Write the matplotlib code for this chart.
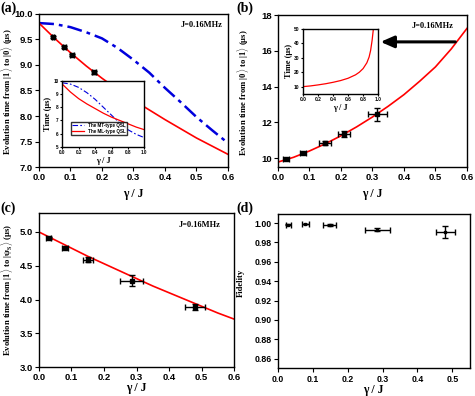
import matplotlib
matplotlib.use('Agg')
import matplotlib.pyplot as plt
import numpy as np

# ---- data ----
gamma = [0.0, 0.05, 0.1, 0.15, 0.2, 0.25, 0.3, 0.35, 0.4, 0.45, 0.5, 0.55, 0.6]

# (a) |1> -> |0>
a_mt = [9.82, 9.80, 9.74, 9.64, 9.52, 9.33, 9.10, 8.85, 8.55, 8.27, 7.98, 7.72, 7.47]
a_ml = [9.82, 9.52, 9.24, 8.98, 8.74, 8.52, 8.31, 8.12, 7.93, 7.75, 7.57, 7.41, 7.25]
a_px = [0.045, 0.08, 0.105, 0.175, 0.29]
a_py = [9.55, 9.36, 9.20, 8.86, 8.35]
a_xerr = [0.004, 0.005, 0.005, 0.006, 0.01]
a_yerr = [0.02, 0.02, 0.02, 0.03, 0.05]

# (a) inset
ins_g = [0.0, 0.1, 0.2, 0.3, 0.4, 0.5, 0.6, 0.7, 0.8, 0.9, 1.0]
ins_mt = [9.85, 9.75, 9.5, 9.1, 8.6, 8.0, 7.4, 6.8, 6.3, 5.95, 5.7]
ins_ml = [9.75, 9.15, 8.65, 8.25, 7.9, 7.55, 7.25, 7.0, 6.75, 6.5, 6.3]

# (b) |0> -> |1>
b_fit = [9.78, 10.05, 10.4, 10.8, 11.25, 11.75, 12.3, 12.9, 13.55, 14.3, 15.1, 16.1, 17.25]
b_px = [0.025, 0.08, 0.15, 0.21, 0.315]
b_py = [9.95, 10.3, 10.85, 11.35, 12.45]
b_xerr = [0.01, 0.01, 0.02, 0.02, 0.03]
b_yerr = [0.05, 0.06, 0.1, 0.15, 0.35]

# (b) inset
binset_g = [0.0, 0.1, 0.2, 0.3, 0.4, 0.5, 0.6, 0.7, 0.75, 0.8, 0.85, 0.88, 0.9, 0.92, 0.935]
binset_t = [10.0, 10.5, 11.2, 12.0, 13.0, 14.2, 15.8, 18.2, 20.0, 22.5, 26.5, 30.5, 35.0, 42.0, 49.0]

# (c) |1> -> |psi_s>
c_fit = [5.0, 4.88, 4.76, 4.64, 4.53, 4.42, 4.31, 4.2, 4.1, 4.0, 3.9, 3.8, 3.71]
c_px = [0.03, 0.08, 0.15, 0.285, 0.48]
c_py = [4.91, 4.77, 4.59, 4.28, 3.89]
c_xerr = [0.008, 0.01, 0.015, 0.035, 0.03]
c_yerr = [0.01, 0.01, 0.04, 0.08, 0.05]

# (d) fidelity
d_px = [0.03, 0.078, 0.148, 0.285, 0.48]
d_py = [0.998, 0.999, 0.998, 0.993, 0.991]
d_xerr = [0.008, 0.01, 0.018, 0.035, 0.028]
d_yerr = [0.0005, 0.0005, 0.0008, 0.0015, 0.006]

SERIF = 'Liberation Serif'
SANS = 'Liberation Sans'
RED = '#ff0000'
BLUE = '#0000dd'

plt.rcParams['font.family'] = SANS
plt.rcParams['font.weight'] = 'bold'
plt.rcParams['mathtext.fontset'] = 'custom'
plt.rcParams['mathtext.rm'] = 'Liberation Serif:bold'
plt.rcParams['mathtext.it'] = 'Liberation Serif:bold'
plt.rcParams['mathtext.default'] = 'rm'
plt.rcParams['axes.linewidth'] = 1.0


def style(ax, fs=6.8, length=3, pad=1.5):
    ax.tick_params(direction='out', length=length, width=0.8, top=False, right=False,
                   pad=pad, labelsize=fs)
    for lab in ax.get_xticklabels() + ax.get_yticklabels():
        lab.set_fontweight('heavy')


def errpts(ax, x, y, xe, ye, ms=3.5):
    ax.errorbar(x, y, xerr=xe, yerr=ye, fmt='s', color='k', ms=ms, elinewidth=1.0,
                capsize=2, capthick=1.0, zorder=4)


fig = plt.figure(figsize=(4.75, 3.96), dpi=100)

xlab = dict(fontsize=8.5, fontweight='bold', family=SERIF)
ylab = dict(fontsize=6.2, fontweight='bold', family=SERIF)

# ---------- (a) ----------
ax = fig.add_axes([0.082, 0.578, 0.398, 0.387])
ax.plot(gamma, a_mt, color=BLUE, lw=1.8, ls=(0, (6, 2, 1.5, 2)))
ax.plot(gamma, a_ml, color=RED, lw=1.2)
errpts(ax, a_px, a_py, a_xerr, a_yerr)
ax.set_xlim(0, 0.6)
ax.set_ylim(7.0, 10.0)
ax.set_xticks([0.0, 0.1, 0.2, 0.3, 0.4, 0.5, 0.6])
ax.set_yticks([7.0, 7.5, 8.0, 8.5, 9.0, 9.5, 10.0])
ax.set_xlabel('γ / J', labelpad=4, **xlab)
ax.set_ylabel('Evolution time from $|1\\rangle$ to $|0\\rangle$ (μs)', **ylab)
ax.yaxis.set_label_coords(-0.128, 0.49)
ax.text(0.97, 0.93, 'J=0.16MHz', transform=ax.transAxes, ha='right', va='center',
        fontsize=6, fontweight='bold', family=SERIF)
style(ax)

ai = fig.add_axes([0.131, 0.629, 0.173, 0.167])
ai.plot(ins_g, ins_mt, color=BLUE, lw=0.8, ls=(0, (5, 2, 1.5, 2)), label='The MT-type QSL')
ai.plot(ins_g, ins_ml, color=RED, lw=0.9, label='The ML-type QSL')
ai.set_xlim(0, 1.0)
ai.set_ylim(5, 10)
ai.set_xticks([0.0, 0.2, 0.4, 0.6, 0.8, 1.0])
ai.set_yticks([5, 6, 7, 8, 9, 10])
ai.set_xlabel('γ / J', fontsize=6, fontweight='bold', family=SERIF, labelpad=1)
ai.set_ylabel('Time (μs)', fontsize=6, fontweight='bold', family=SERIF, labelpad=1)
ai.legend(loc='lower left', fontsize=3.3, frameon=True, fancybox=False, edgecolor='k',
          handlelength=2.5, borderpad=0.3, labelspacing=0.2, bbox_to_anchor=(0.08, 0.14))
style(ai, fs=3.3, length=1.5, pad=1)

# ---------- (b) ----------
bx = fig.add_axes([0.585, 0.578, 0.398, 0.384])
bx.plot(gamma, b_fit, color=RED, lw=1.2)
errpts(bx, b_px, b_py, b_xerr, b_yerr)
bx.set_xlim(0, 0.6)
bx.set_ylim(9.5, 18)
bx.set_xticks([0.0, 0.1, 0.2, 0.3, 0.4, 0.5, 0.6])
bx.set_yticks([10, 12, 14, 16, 18])
bx.set_xlabel('γ / J', labelpad=4, **xlab)
bx.set_ylabel('Evolution time from $|0\\rangle$ to $|1\\rangle$ (μs)', **ylab)
bx.yaxis.set_label_coords(-0.14, 0.49)
bx.text(0.93, 0.93, 'J=0.16MHz', transform=bx.transAxes, ha='right', va='center',
        fontsize=6, fontweight='bold', family=SERIF)
bx.annotate('', xy=(0.317, 16.5), xytext=(0.572, 16.5),
            arrowprops=dict(arrowstyle='-|>,head_length=0.8,head_width=0.35', color='k', lw=2.2))
style(bx)

bi = fig.add_axes([0.638, 0.763, 0.158, 0.164])
bi.plot(binset_g, binset_t, color=RED, lw=0.9)
bi.set_xlim(0, 1.0)
bi.set_ylim(5, 50)
bi.set_xticks([0.0, 0.2, 0.4, 0.6, 0.8, 1.0])
bi.set_yticks([10, 20, 30, 40, 50])
bi.set_xlabel('γ / J', fontsize=6, fontweight='bold', family=SERIF, labelpad=1)
bi.set_ylabel('Time (μs)', fontsize=6, fontweight='bold', family=SERIF, labelpad=1)
style(bi, fs=3.5, length=1.5, pad=1)

# ---------- (c) ----------
cx = fig.add_axes([0.082, 0.073, 0.411, 0.389])
cx.plot(gamma, c_fit, color=RED, lw=1.2)
errpts(cx, c_px, c_py, c_xerr, c_yerr)
cx.set_xlim(0, 0.6)
cx.set_ylim(3.0, 5.28)
cx.set_xticks([0.0, 0.1, 0.2, 0.3, 0.4, 0.5, 0.6])
cx.set_yticks([3.0, 3.5, 4.0, 4.5, 5.0])
cx.set_xlabel('γ / J', labelpad=0, **xlab)
cx.set_ylabel('Evolution time from $|1\\rangle$ to $|\\psi_S\\rangle$ (μs)', **ylab)
cx.yaxis.set_label_coords(-0.124, 0.5)
cx.text(0.93, 0.92, 'J=0.16MHz', transform=cx.transAxes, ha='right', va='center',
        fontsize=6, fontweight='bold', family=SERIF)
style(cx)

# ---------- (d) ----------
dx = fig.add_axes([0.585, 0.07, 0.404, 0.39])
dx.errorbar(d_px, d_py, xerr=d_xerr, yerr=d_yerr, fmt='s', color='k', ms=2,
            elinewidth=1.0, capsize=2, capthick=1.0)
dx.set_xlim(0, 0.55)
dx.set_ylim(0.85, 1.0095)
dx.set_xticks([0.0, 0.1, 0.2, 0.3, 0.4, 0.5])
dx.set_yticks([0.86, 0.88, 0.90, 0.92, 0.94, 0.96, 0.98, 1.00])
dx.set_yticklabels(['%.2f' % v for v in [0.86, 0.88, 0.90, 0.92, 0.94, 0.96, 0.98, 1.00]])
dx.set_xlabel('γ / J', labelpad=0, **xlab)
dx.set_ylabel('Fidelity', **ylab)
dx.yaxis.set_label_coords(-0.17, 0.55)
style(dx, fs=6.3)

# panel labels
for (px, py, s) in [(0.0, 0.997, '(a)'), (0.498, 0.997, '(b)'), (0.0, 0.49, '(c)'), (0.498, 0.49, '(d)')]:
    fig.text(px, py, s, ha='left', va='top', fontsize=10, fontweight='bold', family=SERIF)

fig.savefig('out.png', dpi=100)
